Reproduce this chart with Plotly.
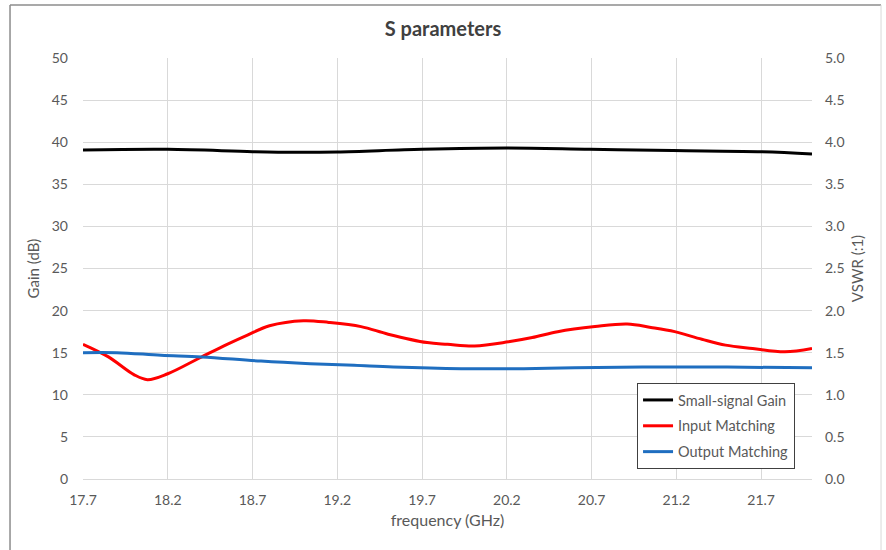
import plotly.graph_objects as go

# Frequency sweep (GHz) and measured curves
gain_freq = [17.7, 18.2, 18.7, 18.95, 19.2, 19.7, 20.2, 20.69, 21.18, 21.68, 22.0]
gain_db = [39.07, 39.15, 38.88, 38.8, 38.84, 39.15, 39.3, 39.15, 39.0, 38.88, 38.6]

in_freq = [17.7, 17.85, 18.0, 18.08, 18.2, 18.39, 18.55, 18.67, 18.8, 19.0, 19.15,
           19.34, 19.5, 19.73, 19.85, 20.01, 20.21, 20.35, 20.5, 20.72, 20.91, 21.05,
           21.19, 21.35, 21.49, 21.65, 21.84, 22.0]
in_vswr = [1.60, 1.45, 1.24, 1.18, 1.25, 1.44, 1.60, 1.71, 1.82, 1.88, 1.86,
           1.81, 1.72, 1.62, 1.60, 1.58, 1.63, 1.68, 1.75, 1.81, 1.84, 1.80,
           1.75, 1.66, 1.59, 1.55, 1.51, 1.55]

out_freq = [17.7, 17.9, 18.16, 18.4, 18.75, 19.04, 19.3, 19.53, 19.93, 20.3, 20.6,
            21.0, 21.5, 22.0]
out_vswr = [1.50, 1.50, 1.47, 1.45, 1.40, 1.37, 1.35, 1.33, 1.31, 1.31, 1.32,
            1.33, 1.33, 1.32]

x_ticks = [17.7, 18.2, 18.7, 19.2, 19.7, 20.2, 20.7, 21.2, 21.7]
gain_ticks = list(range(0, 51, 5))
vswr_ticks = [i * 0.5 for i in range(11)]

FONT = "Lato"
TXT = "#595959"
GRID = "#D9D9D9"

fig = go.Figure()
fig.add_trace(go.Scatter(x=gain_freq, y=gain_db, name="Small-signal Gain", legendgroup="g",
                         mode="lines", line=dict(color="#000000", width=3, shape="spline")))
fig.add_trace(go.Scatter(x=in_freq, y=in_vswr, name="Input Matching", yaxis="y2", legendgroup="i",
                         mode="lines", line=dict(color="#FF0000", width=3, shape="spline")))
fig.add_trace(go.Scatter(x=out_freq, y=out_vswr, name="Output Matching", yaxis="y2", legendgroup="o",
                         mode="lines", line=dict(color="#1F6EC0", width=3, shape="spline")))

fig.update_layout(
    width=886, height=550,
    margin=dict(l=83, r=74, t=58, b=71),
    paper_bgcolor="white", plot_bgcolor="white",
    font=dict(family=FONT, color=TXT, size=14),
    title=dict(text="<b>S parameters</b>", x=0.5, xanchor="center", y=0.948, yanchor="middle",
               font=dict(family=FONT, size=20, color="#404040")),
    xaxis=dict(range=[17.7, 22.0], tickvals=x_ticks, ticktext=[f"{v:.1f}" for v in x_ticks],
               showgrid=True, gridcolor=GRID, gridwidth=1, zeroline=False,
               showline=True, linecolor=GRID, ticks="", ticklabelstandoff=8,
               title=dict(text="frequency (GHz)", standoff=8, font=dict(size=16, color=TXT))),
    yaxis=dict(range=[0, 50], tickvals=gain_ticks, showgrid=True, gridcolor=GRID,
               zeroline=False, ticks="", ticklabelstandoff=14,
               title=dict(text="Gain (dB)", standoff=8, font=dict(size=15, color=TXT))),
    yaxis2=dict(range=[0, 5], tickvals=vswr_ticks, ticktext=[f"{v:.1f}" for v in vswr_ticks],
                overlaying="y", side="right", showgrid=False, zeroline=False, ticks="",
                ticklabelstandoff=12,
                title=dict(text="VSWR (:1)", standoff=8, font=dict(size=15, color=TXT))),
    legend=dict(x=0.76, y=0.228, xanchor="left", yanchor="top",
                bgcolor="white", bordercolor="#404040", borderwidth=1,
                font=dict(family=FONT, size=14.5, color=TXT), tracegroupgap=4,
                itemwidth=30),
    showlegend=True,
)

# Outer chart frame: darker top/left edges, light right edge
frame_left, frame_right, frame_top, frame_bottom = -0.1001, 1.0947, 1.1259, -0.25
fig.add_shape(type="line", xref="paper", yref="paper", x0=frame_left, x1=frame_right,
              y0=frame_top, y1=frame_top, line=dict(color="#8C8C8C", width=1.5))
fig.add_shape(type="line", xref="paper", yref="paper", x0=frame_left, x1=frame_left,
              y0=frame_bottom, y1=frame_top, line=dict(color="#8C8C8C", width=1.5))
fig.add_shape(type="line", xref="paper", yref="paper", x0=frame_right, x1=frame_right,
              y0=frame_bottom, y1=frame_top, line=dict(color="#D9D9D9", width=1))

fig.write_html("out.html")
